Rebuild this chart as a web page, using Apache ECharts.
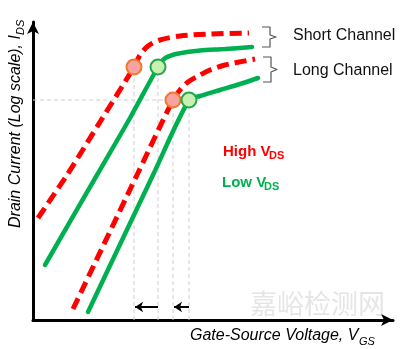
<!DOCTYPE html>
<html>
<head>
<meta charset="utf-8">
<script src="https://cdn.jsdelivr.net/npm/echarts@6/dist/echarts.min.js"></script>
<style>
  html, body { margin: 0; padding: 0; background: #fff; }
  #chart { width: 400px; height: 349px; }
</style>
</head>
<body>
<div id="chart"></div>
<script>
// Transfer curves: gate-source voltage (x, arbitrary units) vs log drain current (y, arbitrary units)
const shortHigh = [[5,102],[34,145],[67,198],[101,253],[107,265],[115,274],[127,280],[147,284],[177,286],[216,287]];
const shortLow  = [[12,55],[64,145],[97,202],[125,253],[131,261],[141,265.5],[154,268],[167,269.5],[192,271],[219,273]];
const longHigh  = [[40,11],[104,145],[140,220],[147,230],[155,238],[167,245],[177,250],[192,255],[222,261]];
const longLow   = [[55,8],[120,145],[156,220],[167,224],[187,230],[207,236],[225,242]];

// Knee points (threshold markers) for high and low drain bias
const kneeHigh = [[101,253],[140,220]];
const kneeLow  = [[125,253],[156,220]];

// Threshold shift arrows: from low-V_DS knee toward high-V_DS knee, near the axis
const shiftLevel = 13;
const shiftPairs = [[kneeLow[0][0], kneeHigh[0][0]], [kneeLow[1][0], kneeHigh[1][0]]];

// Braces grouping the two channel lengths
const braceShort = [[229,293],[237,293],[237,285],[243,283],[237,281],[237,273],[229,273]];
const braceLong  = [[230,263],[238,263],[238,253],[244,250.5],[238,248],[238,238],[230,238]];

const labels = {
  shortCh: 'Short Channel',
  longCh: 'Long Channel',
  high: 'High V', low: 'Low V', ds: 'DS',
  xName: 'Gate-Source Voltage, V', xSub: 'GS',
  yName: 'Drain Current (Log scale), I', ySub: 'DS',
  mark: '嘉峪检测网'
};

const RED = '#ff0000';
const GREEN = '#00b050';
const FONT = '"Liberation Sans", Arial, sans-serif';

const guideStyle = { color: '#cfcfcf', width: 1, type: [4, 3] };

const guideSeries = [];
// vertical drop lines from every knee to the V_GS axis
kneeHigh.concat(kneeLow).forEach(p => {
  guideSeries.push({
    type: 'line', data: [[p[0], 0], [p[0], p[1]]], symbol: 'none',
    lineStyle: guideStyle, silent: true, z: 1
  });
});
// horizontal reference at the long-channel knee current
guideSeries.push({
  type: 'line', data: [[0, kneeHigh[1][1]], [kneeHigh[1][0], kneeHigh[1][1]]], symbol: 'none',
  lineStyle: guideStyle, silent: true, z: 1
});

function curve(data, color, dashed) {
  return {
    type: 'line', data, symbol: 'none', smooth: 0.3, z: 3,
    lineStyle: dashed
      ? { color, width: 5, type: [12, 6], cap: 'butt' }
      : { color, width: 4.5, type: 'solid', cap: 'round' }
  };
}

function brace(data) {
  return {
    type: 'line', data, symbol: 'none', z: 2, silent: true,
    lineStyle: { color: '#555', width: 1.2, join: 'round' }
  };
}

const chart = echarts.init(document.getElementById('chart'));
chart.setOption({
  animation: false,
  backgroundColor: '#fff',
  grid: { left: 33, right: 7, top: 22, bottom: 29 },
  xAxis: {
    type: 'value', min: 0, max: 360,
    axisLine: { show: true, lineStyle: { color: '#000', width: 3 }, symbol: ['none', 'arrow'], symbolSize: [9, 12] },
    axisTick: { show: false }, axisLabel: { show: false }, splitLine: { show: false }
  },
  yAxis: {
    type: 'value', min: 0, max: 298,
    axisLine: { show: true, lineStyle: { color: '#000', width: 3 }, symbol: ['none', 'arrow'], symbolSize: [9, 12] },
    axisTick: { show: false }, axisLabel: { show: false }, splitLine: { show: false }
  },
  series: guideSeries.concat([
    curve(shortHigh, RED, true),
    curve(shortLow, GREEN, false),
    curve(longHigh, RED, true),
    curve(longLow, GREEN, false),
    brace(braceShort),
    brace(braceLong),
    {
      type: 'scatter', data: kneeHigh, symbol: 'circle', symbolSize: 15, z: 5,
      itemStyle: { color: '#f7a3a3', borderColor: '#f07a2a', borderWidth: 2, opacity: 1 }
    },
    {
      type: 'scatter', data: kneeLow, symbol: 'circle', symbolSize: 15, z: 5,
      itemStyle: { color: '#c9f0b3', borderColor: '#22a84a', borderWidth: 2, opacity: 1 }
    },
    {
      type: 'lines', coordinateSystem: 'cartesian2d', z: 4,
      data: shiftPairs.map(s => ({ coords: [[s[0], shiftLevel], [s[1] + 1, shiftLevel]] })),
      symbol: ['none', 'arrow'], symbolSize: 8,
      lineStyle: { color: '#000', width: 2, opacity: 1 }
    }
  ]),
  graphic: [
    { type: 'text', x: 293, y: 36, style: { text: labels.shortCh, font: '16px ' + FONT, fill: '#111', verticalAlign: 'middle' } },
    { type: 'text', x: 293, y: 71, style: { text: labels.longCh, font: '16px ' + FONT, fill: '#111', verticalAlign: 'middle' } },
    { type: 'text', x: 223, y: 151.5, style: { text: labels.high, font: 'bold 15px ' + FONT, fill: RED, verticalAlign: 'middle' } },
    { type: 'text', x: 269, y: 156, style: { text: labels.ds, font: 'bold 11px ' + FONT, fill: RED, verticalAlign: 'middle' } },
    { type: 'text', x: 222, y: 182.5, style: { text: labels.low, font: 'bold 15px ' + FONT, fill: GREEN, verticalAlign: 'middle' } },
    { type: 'text', x: 264, y: 187, style: { text: labels.ds, font: 'bold 11px ' + FONT, fill: GREEN, verticalAlign: 'middle' } },
    { type: 'text', x: 190, y: 336, style: { text: labels.xName, font: 'italic 16px ' + FONT, fill: '#000', verticalAlign: 'middle' } },
    { type: 'text', x: 359, y: 342, style: { text: labels.xSub, font: 'italic 11px ' + FONT, fill: '#000', verticalAlign: 'middle' } },
    {
      type: 'group', x: 16, y: 228, rotation: Math.PI / 2,
      children: [
        { type: 'text', x: 0, y: 0, style: { text: labels.yName, font: 'italic 16px ' + FONT, fill: '#000', verticalAlign: 'middle' } },
        { type: 'text', x: 193, y: 5, style: { text: labels.ySub, font: 'italic 11px ' + FONT, fill: '#000', verticalAlign: 'middle' } }
      ]
    },
    { type: 'text', x: 250, y: 304, z: 100, style: { text: labels.mark, font: '27px "Noto Sans CJK SC", sans-serif', fill: 'rgba(170,170,170,0.3)', verticalAlign: 'middle' } }
  ]
});
</script>
</body>
</html>
